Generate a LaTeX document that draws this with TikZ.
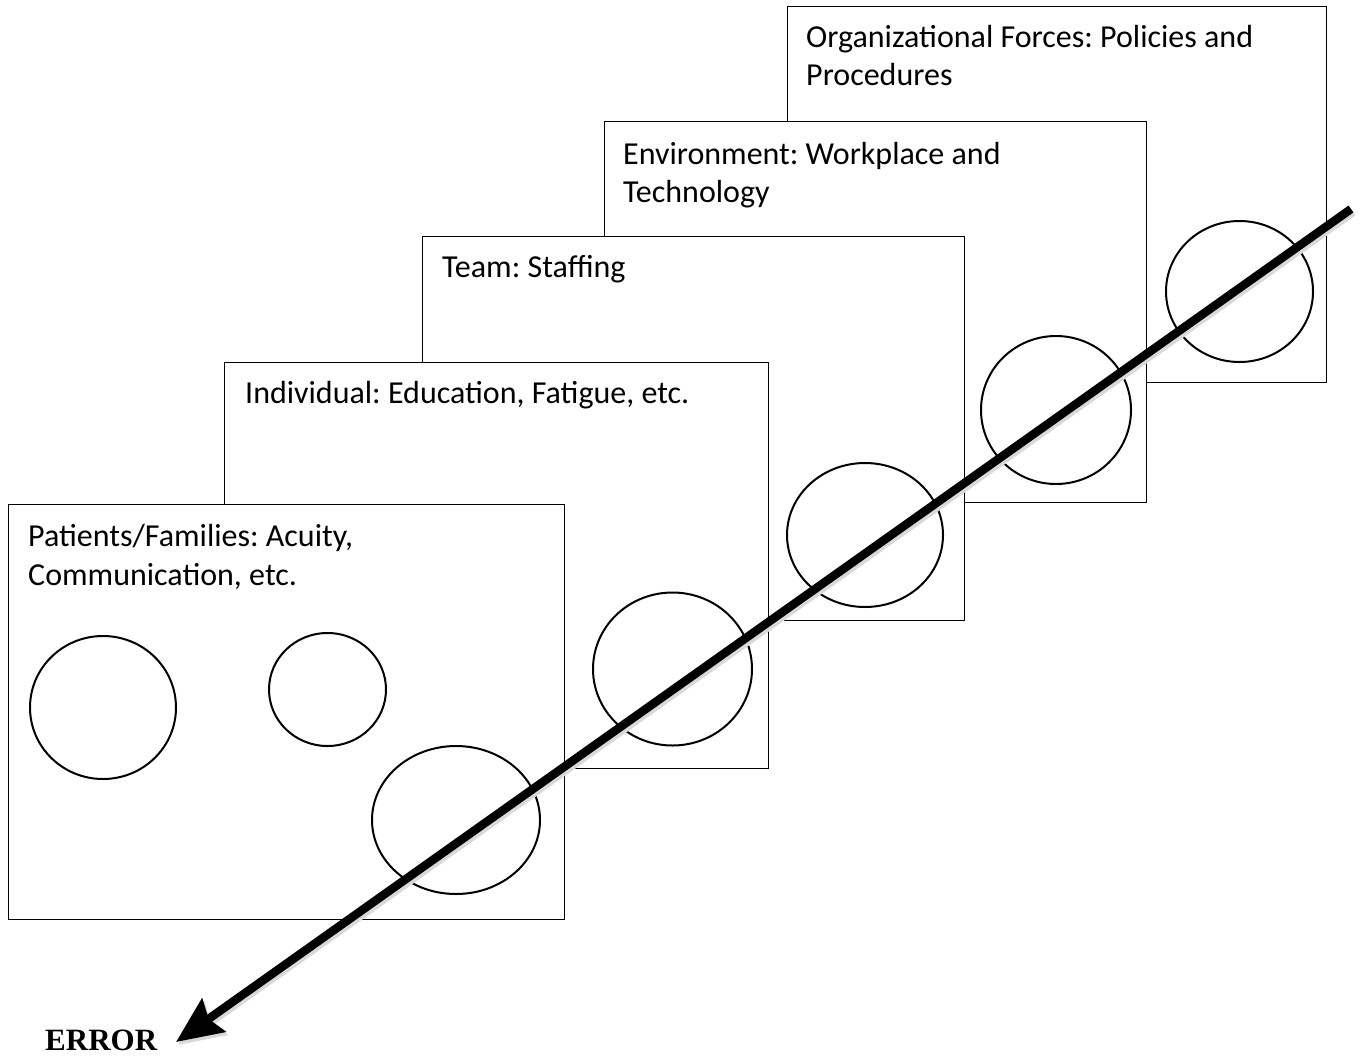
\documentclass[tikz,border=0pt]{standalone}
\usepackage{fontspec}
\setmainfont{Carlito}
\newfontfamily\errfont{Liberation Serif}
\usetikzlibrary{shapes.geometric,arrows.meta}
\frenchspacing
\begin{document}
\begin{tikzpicture}[x=1pt,y=-1pt,
  box/.style={draw=black,fill=white,line width=1.3pt,anchor=north west,inner sep=0pt},
  lbl/.style={anchor=base west,inner sep=0pt,align=left,font=\fontsize{32}{38.5}\selectfont},
  ring/.style={draw=black,ellipse,line width=2pt,inner sep=0pt},
  bigarrow/.style={line width=8.5pt,-{Stealth[length=46pt,width=40pt,inset=6pt]}}]
\useasboundingbox[fill=white] (0,0) rectangle (1367,1055);
% Organizational
\node[box,minimum width=539pt,minimum height=376pt] (org) at (787,6) {};
\node[lbl] (orgl) at (806,85.5) {Organizational Forces: Policies and\\Procedures};
\node[ring,minimum width=147pt,minimum height=141pt] (orgc) at (1239.5,291.5) {};
% Environment
\node[box,minimum width=542pt,minimum height=381pt] (env) at (604,121) {};
\node[lbl] (envl) at (623,202.5) {Environment: Workplace and\\Technology};
\node[ring,minimum width=150pt,minimum height=148pt] (envc) at (1056,410) {};
% Team
\node[box,minimum width=542pt,minimum height=384pt] (team) at (422,236) {};
\node[lbl] (teaml) at (442,277) {Team: Staffing};
\node[ring,minimum width=156pt,minimum height=144pt] (teamc) at (865,535) {};
% Individual
\node[box,minimum width=544pt,minimum height=406pt] (ind) at (224,362) {};
\node[lbl] (indl) at (245,403) {Individual: Education, Fatigue, etc.};
\node[ring,minimum width=159pt,minimum height=153pt] (indc) at (672.5,669) {};
% Patients
\node[box,minimum width=556pt,minimum height=415pt] (pat) at (8,504) {};
\node[lbl] (patl) at (28,585) {Patients/Families: Acuity,\\Communication, etc.};
\node[ring,minimum width=146pt,minimum height=143pt] (patc1) at (103,707.5) {};
\node[ring,minimum width=117pt,minimum height=113pt] (patc2) at (327.5,689.5) {};
\node[ring,minimum width=168pt,minimum height=148pt] (patc3) at (456,820) {};
% Arrow
\coordinate (astart) at (1351,209);
\coordinate (aend) at (176,1042);
\draw[bigarrow,draw=black!15,fill=black!15,transform canvas={shift={(2pt,-3pt)}}] (astart) -- (aend);
\draw[bigarrow] (astart) -- (aend);
\node[anchor=base west,inner sep=0pt,font=\errfont\bfseries\fontsize{31}{37}\selectfont] (err) at (45,1050) {ERROR};
\end{tikzpicture}
\end{document}
